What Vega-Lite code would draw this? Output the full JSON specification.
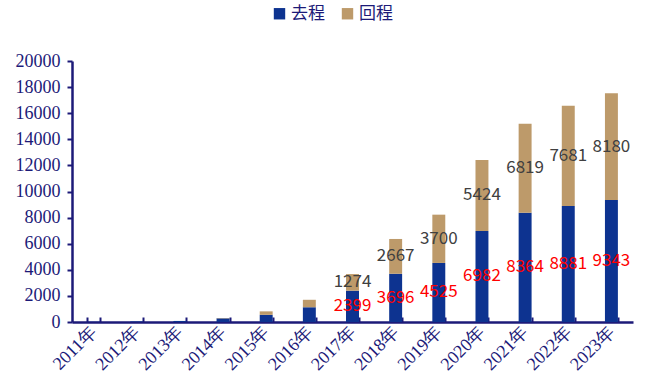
{
  "$schema": "https://vega.github.io/schema/vega-lite/v6.json",
  "autosize": "none",
  "width": 561,
  "height": 261,
  "padding": {"left": 72, "top": 61, "right": 14, "bottom": 63},
  "background": "white",
  "config": {
    "view": {"stroke": null},
    "axis": {
      "labelFont": "Times New Roman, Liberation Serif, DejaVu Serif, serif",
      "labelColor": "#1c1a78",
      "tickColor": "#1c1a78",
      "tickWidth": 2,
      "domainColor": "#1c1a78",
      "domainWidth": 2.5,
      "grid": false,
      "title": null,
      "labelOverlap": false
    },
    "axisY": {"labelFontSize": 18, "labelPadding": 7, "tickSize": 5},
    "axisX": {"labelFontSize": 18}
  },
  "data": {"values": [
    {"year": 2011, "type": "去程", "value": 17},
    {"year": 2011, "type": "回程", "value": 0},
    {"year": 2012, "type": "去程", "value": 42},
    {"year": 2012, "type": "回程", "value": 0},
    {"year": 2013, "type": "去程", "value": 80},
    {"year": 2013, "type": "回程", "value": 0},
    {"year": 2014, "type": "去程", "value": 280},
    {"year": 2014, "type": "回程", "value": 28},
    {"year": 2015, "type": "去程", "value": 550},
    {"year": 2015, "type": "回程", "value": 265},
    {"year": 2016, "type": "去程", "value": 1130},
    {"year": 2016, "type": "回程", "value": 572},
    {"year": 2017, "type": "去程", "value": 2399},
    {"year": 2017, "type": "回程", "value": 1274},
    {"year": 2018, "type": "去程", "value": 3696},
    {"year": 2018, "type": "回程", "value": 2667},
    {"year": 2019, "type": "去程", "value": 4525},
    {"year": 2019, "type": "回程", "value": 3700},
    {"year": 2020, "type": "去程", "value": 6982},
    {"year": 2020, "type": "回程", "value": 5424},
    {"year": 2021, "type": "去程", "value": 8364},
    {"year": 2021, "type": "回程", "value": 6819},
    {"year": 2022, "type": "去程", "value": 8881},
    {"year": 2022, "type": "回程", "value": 7681},
    {"year": 2023, "type": "去程", "value": 9343},
    {"year": 2023, "type": "回程", "value": 8180}
  ]},
  "transform": [
    {"calculate": "datum.type === '去程' ? 0 : 1", "as": "ord"},
    {"stack": "value", "groupby": ["year"], "sort": [{"field": "ord", "order": "ascending"}], "as": ["v0", "v1"]},
    {"calculate": "(datum.v0 + datum.v1) / 2", "as": "mid"}
  ],
  "encoding": {
    "x": {
      "field": "year", "type": "ordinal",
      "scale": {"paddingInner": 0.7, "paddingOuter": 0.35},
      "axis": {
        "labelExpr": "isValid(datum.value) ? datum.value + '年' : ''",
        "labelAngle": -45,
        "labelAlign": "right",
        "labelBaseline": "middle",
        "labelPadding": 12,
        "tickBand": "extent",
        "tickSize": -5
      }
    }
  },
  "layer": [
    {
      "mark": {"type": "bar"},
      "encoding": {
        "y": {
          "field": "v0", "type": "quantitative",
          "scale": {"domain": [0, 20000]},
          "axis": {"values": [0, 2000, 4000, 6000, 8000, 10000, 12000, 14000, 16000, 18000, 20000], "format": "d"}
        },
        "y2": {"field": "v1"},
        "color": {
          "field": "type", "type": "nominal",
          "scale": {"domain": ["去程", "回程"], "range": ["#0d3390", "#bd9a6a"]},
          "legend": {
            "title": null,
            "orient": "none",
            "direction": "horizontal",
            "legendX": 199,
            "legendY": -56,
            "symbolType": "square",
            "symbolSize": 130,
            "symbolStrokeWidth": 0,
            "labelFont": "Noto Sans CJK SC",
            "labelFontSize": 17,
            "labelColor": "#1c1a78",
            "columnPadding": 14,
            "labelOffset": 3
          }
        }
      }
    },
    {
      "transform": [{"filter": "datum.year >= 2017"}],
      "mark": {"type": "text", "font": "Noto Sans CJK SC", "fontSize": 17, "baseline": "middle", "align": "center"},
      "encoding": {
        "y": {
          "field": "mid", "type": "quantitative",
          "axis": {"values": [0, 2000, 4000, 6000, 8000, 10000, 12000, 14000, 16000, 18000, 20000], "format": "d"}
        },
        "text": {"field": "value", "type": "quantitative", "format": "d"},
        "color": {
          "field": "type", "type": "nominal",
          "scale": {"domain": ["去程", "回程"], "range": ["#ff0000", "#404040"]},
          "legend": null
        }
      }
    }
  ],
  "resolve": {"scale": {"color": "independent"}}
}
